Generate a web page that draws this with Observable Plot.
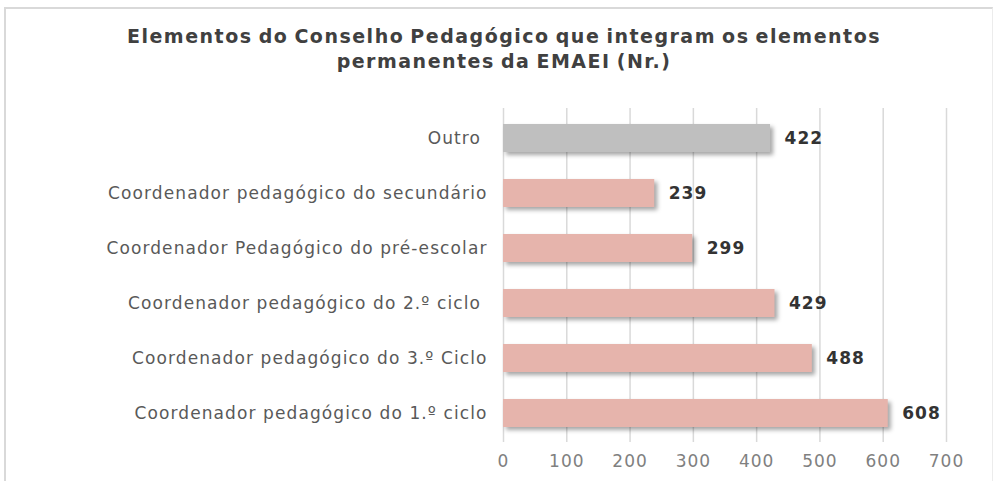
<!DOCTYPE html>
<html>
<head>
<meta charset="utf-8">
<script src="https://cdn.jsdelivr.net/npm/d3@7"></script>
<script src="https://cdn.jsdelivr.net/npm/@observablehq/plot@0.6"></script>
<style>
  html, body { margin: 0; padding: 0; background: #fff; }
  #page { position: relative; width: 994px; height: 481px; overflow: hidden; background: #fff; }
  #frame { position: absolute; left: 4px; top: 7px; width: 986px; height: 480px;
           border-left: 2px solid #d9d9d9; border-top: 2px solid #d9d9d9; border-right: 1px solid #ececec; }
  #title { position: absolute; left: 0; top: 24px; width: 1008px; text-align: center;
           font-family: "DejaVu Sans", sans-serif; font-weight: bold; font-size: 19px; line-height: 25px;
           letter-spacing: 1.5px; word-spacing: -2px; color: #404040; }
  #chart { position: absolute; left: 0; top: 95px; }
  #chart g[aria-label="bar"] { filter: drop-shadow(3px 3px 2px rgba(0,0,0,0.35)); }
  #chart g[aria-label="y-axis tick label"] text { letter-spacing: 1.1px; }
  #chart g[aria-label="x-axis tick label"] text { letter-spacing: 1px; }
  #chart g[aria-label="text"] text { letter-spacing: 1px; }
</style>
</head>
<body>
<div id="page">
  <div id="frame"></div>
  <div id="title">Elementos do Conselho Pedagógico que integram os elementos<br>permanentes da EMAEI (Nr.)</div>
  <div id="chart"></div>
</div>
<script>
const categories = [
  "Outro\u00a0",
  "Coordenador pedagógico do secundário",
  "Coordenador Pedagógico do pré-escolar",
  "Coordenador pedagógico do 2.º ciclo\u00a0",
  "Coordenador pedagógico do 3.º Ciclo",
  "Coordenador pedagógico do 1.º ciclo"
];
const values = [422, 239, 299, 429, 488, 608];
const xTicks = [0, 100, 200, 300, 400, 500, 600, 700];

const data = categories.map((c, i) => ({cat: c, value: values[i]}));

const chart = Plot.plot({
  width: 994,
  height: 386,
  marginLeft: 503,
  marginRight: 48,
  marginTop: 13,
  marginBottom: 39,
  style: {fontFamily: "DejaVu Sans, sans-serif", background: "transparent"},
  x: {domain: [0, 700], ticks: xTicks},
  y: {domain: categories, range: [1, 360], padding: 0.49},
  marks: [
    Plot.gridX(xTicks, {stroke: "#d9d9d9", strokeOpacity: 1, strokeWidth: 1.5}),
    Plot.axisX({ticks: xTicks, tickSize: 0, tickPadding: 12, fontSize: 17, color: "#808080", label: null}),
    Plot.axisY({tickSize: 0, tickPadding: 16, fontSize: 17, color: "#595959", label: null}),
    Plot.barX(data, {x: "value", y: "cat", fill: d => d.cat.startsWith("Outro") ? "#bfbfbf" : "#e6b4ac"}),
    Plot.text(data, {x: "value", y: "cat", text: d => String(d.value), textAnchor: "start", dx: 14,
      fontSize: 17, fontWeight: "bold", fill: "#333333"})
  ]
});
document.getElementById("chart").appendChild(chart);
</script>
</body>
</html>
